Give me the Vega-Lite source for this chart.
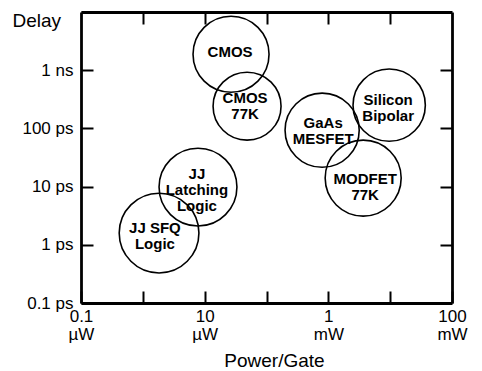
{
  "$schema": "https://vega.github.io/schema/vega-lite/v6.json",
  "autosize": "none",
  "padding": {"left": 81, "top": 12, "right": 30, "bottom": 68},
  "width": 371,
  "height": 291,
  "config": {
    "view": {"stroke": null},
    "font": "Liberation Sans",
    "axis": {
      "grid": false,
      "domainColor": "black",
      "domainWidth": 2.8,
      "tickColor": "black",
      "tickWidth": 2,
      "tickSize": -12,
      "labelColor": "black",
      "titleColor": "black",
      "labelFont": "Liberation Sans",
      "titleFont": "Liberation Sans",
      "titleFontWeight": "normal",
      "labelFlush": false,
      "labelOverlap": false,
      "labelBound": false
    }
  },
  "data": {
    "values": [
      {"tech": "CMOS", "label": "CMOS", "power_uW": 26.7, "delay_ps": 1880, "span": 1.23, "label_power_uW": 25.8, "label_delay_ps": 2037},
      {"tech": "CMOS 77K", "label": "CMOS|77K", "power_uW": 48.5, "delay_ps": 241, "span": 1.10, "label_power_uW": 45, "label_delay_ps": 330},
      {"tech": "GaAs MESFET", "label": "GaAs|MESFET", "power_uW": 794, "delay_ps": 93, "span": 1.20, "label_power_uW": 824, "label_delay_ps": 123},
      {"tech": "Silicon Bipolar", "label": "Silicon|Bipolar", "power_uW": 9640, "delay_ps": 251, "span": 1.17, "label_power_uW": 9290, "label_delay_ps": 305},
      {"tech": "MODFET 77K", "label": "MODFET|77K", "power_uW": 3660, "delay_ps": 14, "span": 1.23, "label_power_uW": 3940, "label_delay_ps": 13.5},
      {"tech": "JJ Latching Logic", "label": "JJ|Latching|Logic", "power_uW": 7.8, "delay_ps": 9.8, "span": 1.26, "label_power_uW": 7.5, "label_delay_ps": 16.4},
      {"tech": "JJ SFQ Logic", "label": "JJ SFQ|Logic", "power_uW": 1.83, "delay_ps": 1.59, "span": 1.29, "label_power_uW": 1.57, "label_delay_ps": 1.94}
    ]
  },
  "layer": [
    {
      "mark": {"type": "point", "shape": "circle", "filled": false, "stroke": "black", "strokeWidth": 1.6, "opacity": 1},
      "encoding": {
        "x": {
          "field": "power_uW", "type": "quantitative",
          "scale": {"type": "log", "domain": [0.1, 100000], "nice": false},
          "axis": {
            "orient": "bottom",
            "values": [0.1, 1, 10, 100, 1000, 10000, 100000],
            "labelExpr": "datum.value == 0.1 ? ['0.1','µW'] : datum.value == 10 ? ['10','µW'] : datum.value == 1000 ? ['1','mW'] : datum.value == 100000 ? ['100','mW'] : ''",
            "labelFontSize": 17,
            "labelLineHeight": 18,
            "labelPadding": 17,
            "labelAlign": "center",
            "labelBaseline": "top",
            "title": "Power/Gate",
            "titleFontSize": 19,
            "titleX": 193,
            "titleY": 63,
            "titleAlign": "center",
            "titleBaseline": "alphabetic"
          }
        },
        "y": {
          "field": "delay_ps", "type": "quantitative",
          "scale": {"type": "log", "domain": [0.1, 10000], "nice": false},
          "axis": {
            "orient": "left",
            "values": [0.1, 1, 10, 100, 1000, 10000],
            "labelExpr": "datum.value == 10000 ? '' : datum.value >= 1000 ? (datum.value / 1000) + ' ns' : datum.value + ' ps'",
            "labelFontSize": 17,
            "labelPadding": 20,
            "labelBaseline": "middle",
            "title": "Delay",
            "titleFontSize": 19,
            "titleAngle": 0,
            "titleX": -69,
            "titleY": 14,
            "titleAlign": "left",
            "titleBaseline": "alphabetic"
          }
        },
        "size": {
          "field": "span", "type": "quantitative",
          "scale": {"type": "pow", "exponent": 2, "domain": [0, 1], "range": [0, 3819], "zero": true},
          "legend": null
        }
      }
    },
    {
      "mark": {"type": "text", "fontWeight": "bold", "fontSize": 15, "lineHeight": 16, "lineBreak": "|", "align": "center", "baseline": "middle", "color": "black", "font": "Liberation Sans"},
      "encoding": {
        "x": {
          "field": "label_power_uW", "type": "quantitative",
          "scale": {"type": "log", "domain": [0.1, 100000], "nice": false},
          "axis": {"orient": "top", "values": [1, 10, 100, 1000, 10000], "labels": false, "title": null}
        },
        "y": {
          "field": "label_delay_ps", "type": "quantitative",
          "scale": {"type": "log", "domain": [0.1, 10000], "nice": false},
          "axis": {"orient": "right", "values": [1, 10, 100, 1000], "labels": false, "title": null}
        },
        "text": {"field": "label", "type": "nominal"}
      }
    }
  ],
  "resolve": {"axis": {"x": "independent", "y": "independent"}}
}
